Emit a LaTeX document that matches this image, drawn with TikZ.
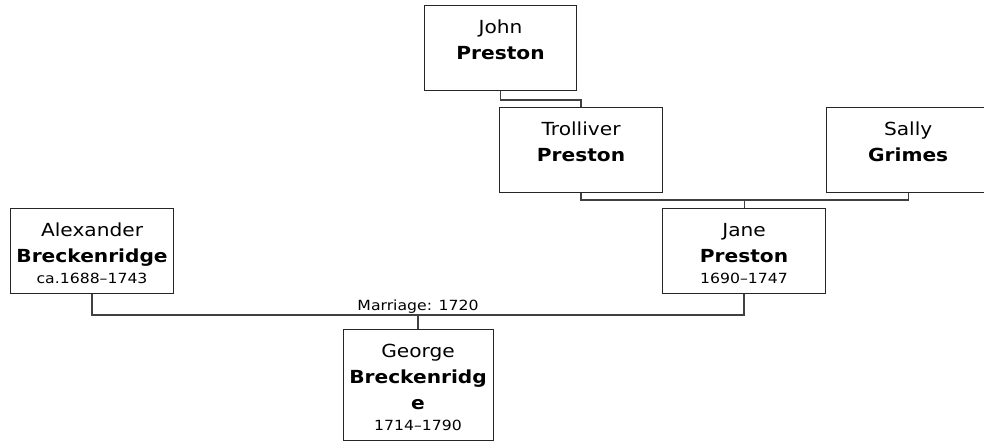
\documentclass[tikz,border=0pt]{standalone}
\usepackage{fontspec}
\setmainfont{DejaVu Sans}[FakeStretch=1.12]
\usetikzlibrary{positioning, calc}

\newcommand{\namefont}{\fontsize{18}{26}\selectfont}
\newcommand{\datefont}{\fontsize{14}{21}\selectfont}
% first name, surname (bold), dates
\newcommand{\person}[3]{\rule{0pt}{24pt}#1\\\textbf{#2}\\[-5pt]{\datefont #3}\rule[-6pt]{0pt}{0pt}}

\begin{document}
\begin{tikzpicture}[x=1pt, y=-1pt,
    person/.style={rectangle, draw=black!85, line width=1.1pt, inner xsep=0pt, inner ysep=4pt,
        text width=#1, align=center, node font=\namefont, anchor=north west},
    link/.style={draw=black!75, line width=1.3pt}]
    \useasboundingbox (0,0) rectangle (984,441);

    \node[person=152pt] (john) at (424,5) {\person{John}{Preston}{}};
    \node[person=163pt] (trolliver) at (499,107) {\person{Trolliver}{Preston}{}};
    \node[person=163pt, right=163pt of trolliver] (sally) {\person{Sally}{Grimes}{}};
    \node[person=163pt] (jane) at (662,208) {\person{Jane}{Preston}{1690–1747}};
    \node[person=163pt] (alexander) at (10,208) {\person{Alexander}{Breckenridge}{ca.1688–1743}};

    \coordinate (ts) at ($(trolliver.south)!.5!(sally.south) + (0,7)$);
    \coordinate (aj) at ($(alexander.south)!.5!(jane.south) + (0,21)$);

    \node[person=150pt, anchor=north, below=14pt of aj] (george) {\person{George}{Breckenridg\\e}{1714–1790}};

    % parent lines
    \draw[link] (john.south) -- ++(0,9) -| (trolliver.north);
    \draw[link] (trolliver.south) -- (trolliver.south |- ts) -- (sally.south |- ts) -- (sally.south);
    \draw[link] (ts) -- (ts |- jane.north);
    \draw[link] (alexander.south) -- (alexander.south |- aj) -- (jane.south |- aj) -- (jane.south);
    \draw[link] (aj) -- (aj |- george.north);
    \node[font=\datefont, anchor=base, yshift=5pt] (marriage) at (aj) {Marriage: 1720};
\end{tikzpicture}
\end{document}
